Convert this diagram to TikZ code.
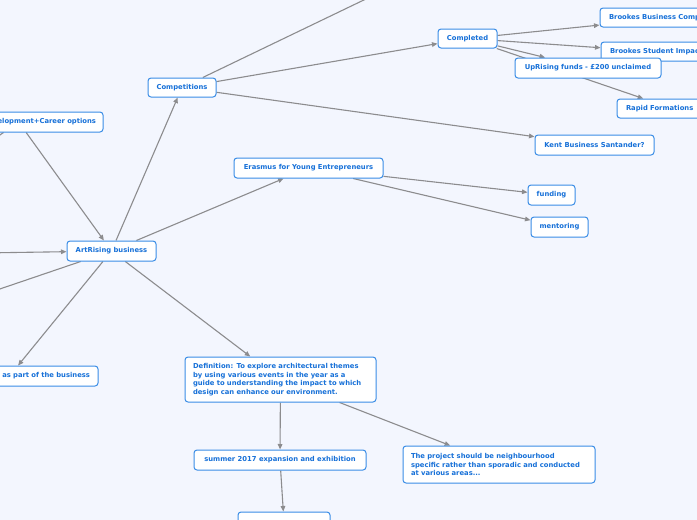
\documentclass[tikz,border=0pt]{standalone}
\usepackage{fontspec}
\newfontfamily\mapfont{DejaVu Sans}
\usetikzlibrary{arrows.meta}
\definecolor{bgcol}{RGB}{243,246,254}
\definecolor{textcol}{RGB}{22,112,216}
\definecolor{bordercol}{RGB}{58,141,230}
\definecolor{edgecol}{RGB}{140,140,142}
\pgfdeclarelayer{bg}
\pgfsetlayers{bg,main}
\hbadness=10000 \hfuzz=200pt
\tikzset{
  box/.style={draw=bordercol, line width=1pt, fill=white, rounded corners=3pt,
    text=textcol, font=\mapfont\bfseries\fontsize{6.8}{8.7}\selectfont,
    inner xsep=0pt, inner ysep=0pt, minimum height=20pt},
  leftbox/.style={box, align=left, inner xsep=#1},
  rightbox/.style={box, align=right, inner xsep=#1},
  edge/.style={draw=edgecol, line width=1.1pt, -{Triangle[length=5.5pt,width=4.6pt]}},
}
\begin{document}
\begin{tikzpicture}[x=1pt,y=-1pt]
\path[use as bounding box] (0,0) rectangle (697,520);
\clip (0,0) rectangle (697,520);
% nodes
\node[box, minimum width=68pt, minimum height=19pt] (comp) at (182,87.5) {Competitions};
\node[box, minimum width=59pt, minimum height=19pt] (completed) at (467.5,38.5) {Completed};
\node[leftbox=9pt, text width=130pt, minimum height=19pt] (bbc) at (674,17.5) {\mbox{Brookes Business Competition}};
\node[leftbox=9pt, text width=90pt, minimum height=19pt] (bsi) at (655,51.5) {\mbox{Brookes Student Impact}};
\node[box, minimum width=146pt] (upr) at (588,68) {UpRising funds - £200 unclaimed};
\node[leftbox=9pt, text width=93pt, minimum height=19pt] (rapid) at (672.5,108.5) {\mbox{Rapid Formations}};
\node[box, minimum width=119pt] (kent) at (594.5,145) {Kent Business Santander?};
\node[rightbox=7pt, text width=154.8pt] (dev) at (18.6,122) {\mbox{Development+Career options}};
\node[box, minimum width=89pt] (art) at (111.5,251) {ArtRising business};
\node[box, minimum width=149pt] (eras) at (308.5,168) {Erasmus for Young Entrepreneurs};
\node[box, minimum width=47pt] (fund) at (551.5,195) {funding};
\node[box, minimum width=57pt] (ment) at (559.5,227) {mentoring};
\node[rightbox=8pt, text width=161pt] (part) at (9.5,376) {\mbox{as part of the business}};
\node[leftbox=8pt, text width=175pt, minimum height=45pt] (def) at (280.5,379.5)
  {Definition: To explore architectural themes\\by using various events in the year as a\\guide to understanding the impact to which\\design can enhance our environment.};
\node[box, minimum width=172pt] (summer) at (280,460) {summer 2017 expansion and exhibition};
\node[leftbox=8pt, text width=176pt, minimum height=37pt] (proj) at (499,464.5)
  {The project should be neighbourhood\\specific rather than sporadic and conducted\\at various areas...};
\node[box, minimum width=92pt] (bottom) at (284,522) {};
% off-picture ends
\coordinate (offtop) at (582,-105);
\coordinate (leftsrc) at (-150,255);
\coordinate (offll) at (-288.5,387);
\coordinate (devchild) at (-147,237);
\begin{pgfonlayer}{bg}
\clip (0,0) rectangle (697,520);
\fill[bgcol] (0,0) rectangle (697,520);
\draw[edge] (art) -- (comp);
\draw[edge] (comp) -- (offtop);
\draw[edge] (comp) -- (completed);
\draw[edge] (comp) -- (kent);
\draw[edge] (completed) -- (bbc);
\draw[edge] (completed) -- (bsi);
\draw[edge] (completed) -- (upr);
\draw[edge] (completed) -- (rapid);
\draw[edge] (art) -- (eras);
\draw[edge] (eras) -- (fund);
\draw[edge] (eras) -- (ment);
\draw[edge] (dev) -- (art);
\draw[edge] (dev) -- (devchild);
\draw[edge] (leftsrc) -- (art);
\draw[edge] (art) -- (offll);
\draw[edge] (art) -- (part);
\draw[edge] (art) -- (def);
\draw[edge] (def) -- (summer);
\draw[edge] (def) -- (proj);
\draw[edge] (summer) -- (bottom);
\end{pgfonlayer}
\end{tikzpicture}
\end{document}
